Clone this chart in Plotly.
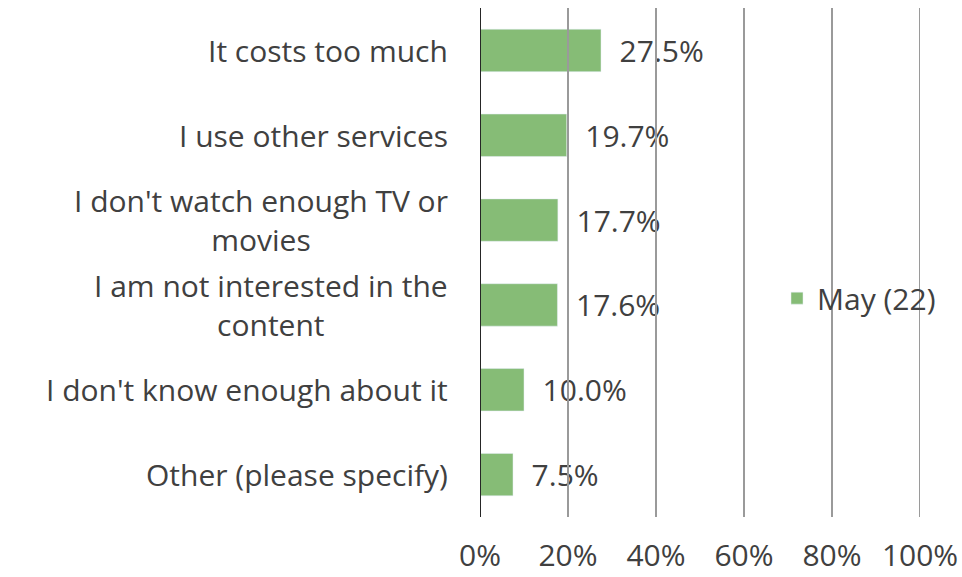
import plotly.graph_objects as go

categories = [
    "It costs too much",
    "I use other services",
    "I don't watch enough TV or<br>movies",
    "I am not interested in the<br>content",
    "I don't know enough about it",
    "Other (please specify)",
]
values = [27.5, 19.7, 17.7, 17.6, 10.0, 7.5]
series_name = "May (22)"
tick_vals = [0, 20, 40, 60, 80, 100]
tick_text = ["0%", "20%", "40%", "60%", "80%", "100%"]

font_family = "Open Sans, Lato, sans-serif"
text_color = "#404040"
bar_color = "#86bc76"
fsize = 30

fig = go.Figure()

fig.add_trace(go.Bar(
    y=categories,
    x=values,
    orientation="h",
    name=series_name,
    marker=dict(color=bar_color),
    width=0.5,
    text=[f"\u00a0\u00a0{v:.1f}%" for v in values],
    textposition="outside",
    textfont=dict(size=fsize, color=text_color, family=font_family),
    cliponaxis=False,
    showlegend=True,
))

# category labels, centred on each wrapped line like the original
for cat in categories:
    fig.add_annotation(
        x=0, xref="paper", y=cat, yref="y",
        text=cat, showarrow=False,
        xanchor="right", align="center", xshift=-30,
        font=dict(size=fsize, color=text_color, family=font_family),
    )

# gridlines drawn above the bars
for t in tick_vals[1:]:
    fig.add_shape(
        type="line", x0=t, x1=t, xref="x", y0=0, y1=1, yref="paper",
        line=dict(color="#9a9a9a", width=2), layer="above",
    )
fig.add_shape(
    type="line", x0=0, x1=0, xref="x", y0=0, y1=1, yref="paper",
    line=dict(color="#262626", width=2), layer="above",
)

fig.update_layout(
    width=962,
    height=577,
    paper_bgcolor="white",
    plot_bgcolor="white",
    margin=dict(l=480, r=42, t=8, b=60, autoexpand=False),
    font=dict(family=font_family, size=fsize, color=text_color),
    xaxis=dict(
        range=[0, 100],
        tickvals=tick_vals,
        ticktext=tick_text,
        showgrid=False,
        zeroline=False,
        showline=False,
        ticks="",
        ticklabelstandoff=18,
        automargin=False,
        tickfont=dict(size=fsize, color=text_color, family=font_family),
    ),
    yaxis=dict(
        categoryorder="array",
        categoryarray=categories[::-1],
        showticklabels=False,
        showgrid=False,
        zeroline=False,
        ticks="",
        automargin=False,
    ),
    legend=dict(
        x=0.675, y=0.43, xanchor="left", yanchor="middle",
        bgcolor="rgba(0,0,0,0)",
        font=dict(size=fsize, color=text_color, family=font_family),
        itemwidth=30,
    ),
)

fig.write_html(
    "out.html",
    config={"displayModeBar": False},
    post_script="document.body.style.margin='0';",
)
